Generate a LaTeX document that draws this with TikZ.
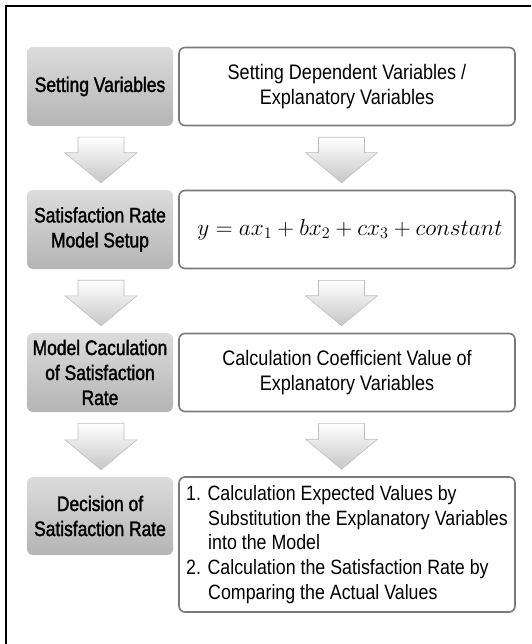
\documentclass[tikz,border=0pt]{standalone}
\usepackage[no-math]{fontspec}
\setmainfont{Liberation Sans}[FakeStretch=0.86]
\newfontfamily\headfont{Liberation Sans}[FakeStretch=0.83,FakeBold=1.6]
\usetikzlibrary{calc}
\definecolor{lgtop}{HTML}{DCDCDC}
\definecolor{lgbot}{HTML}{B4B4B4}
\definecolor{boxline}{HTML}{7A7A7A}
\definecolor{arrbot}{HTML}{C6C6C6}
\definecolor{arredge}{HTML}{BEBEBE}
\newcommand{\blockarrow}[3]{%
  \path[arr] let \p1=(#1.south), \p2=(#2.north) in
    (#3pt-23pt,\y1-11pt) -- (#3pt+23pt,\y1-11pt) -- (#3pt+23pt,\y2+37pt)
    -- (#3pt+36pt,\y2+37pt) -- (#3pt,\y2+7pt) -- (#3pt-36pt,\y2+37pt)
    -- (#3pt-23pt,\y2+37pt) -- cycle;}
\begin{document}
\begin{tikzpicture}[x=1pt,y=-1pt,
  leftbox/.style={rounded corners=6pt, top color=lgtop, bottom color=lgbot,
    minimum width=146pt, minimum height=79pt, align=center,
    font=\headfont\fontsize{21}{25}\selectfont, inner sep=0pt, text=black},
  rightbox/.style={draw=boxline, line width=1.6pt, rounded corners=6pt, fill=white,
    minimum width=336pt, minimum height=78pt, align=center,
    font=\fontsize{21}{25}\selectfont, inner sep=0pt},
  arr/.style={top color=white, bottom color=arrbot, draw=arredge, line width=0.6pt},
  frame/.style={line width=1.5pt, draw=black}]
\useasboundingbox (0,0) rectangle (531,644);
\draw[frame] (531,6) -- (6,6) -- (6,644);
% left column
\node[leftbox] (L1) at (100,86.5) {Setting Variables};
\node[leftbox] (L2) at (100,229.5) {Satisfaction Rate\\Model Setup};
\node[leftbox] (L3) at (100,372.5) {Model Caculation\\of Satisfaction\\Rate};
\node[leftbox, minimum height=78pt] (L4) at (100,516) {Decision of\\Satisfaction Rate};
% right column
\node[rightbox] (R1) at (347,86.5) {Setting Dependent Variables /\\Explanatory Variables};
\node[rightbox, font=\huge] (R2) at (347,229.5) {\hspace*{6pt}\scalebox{1.12}{$y=ax_1+bx_2+cx_3+constant$}};
\node[rightbox] (R3) at (347,372.5) {Calculation Coefficient Value of\\Explanatory Variables};
\node[rightbox, minimum height=135pt] (R4) at (347,544.5) {};
\node[anchor=west, align=left, inner sep=0pt, font=\fontsize{20.7}{24.8}\selectfont] (R4t) at (186,544.5)
  {1. Calculation Expected Values by\\\hspace*{22pt}Substitution the Explanatory Variables\\\hspace*{22pt}into the Model\\2. Calculation the Satisfaction Rate by\\\hspace*{22pt}Comparing the Actual Values};
% arrows
\blockarrow{L1}{L2}{101}
\blockarrow{L2}{L3}{101}
\blockarrow{L3}{L4}{101}
\blockarrow{R1}{R2}{341.5}
\blockarrow{R2}{R3}{341.5}
\blockarrow{R3}{R4}{341.5}
\end{tikzpicture}
\end{document}
